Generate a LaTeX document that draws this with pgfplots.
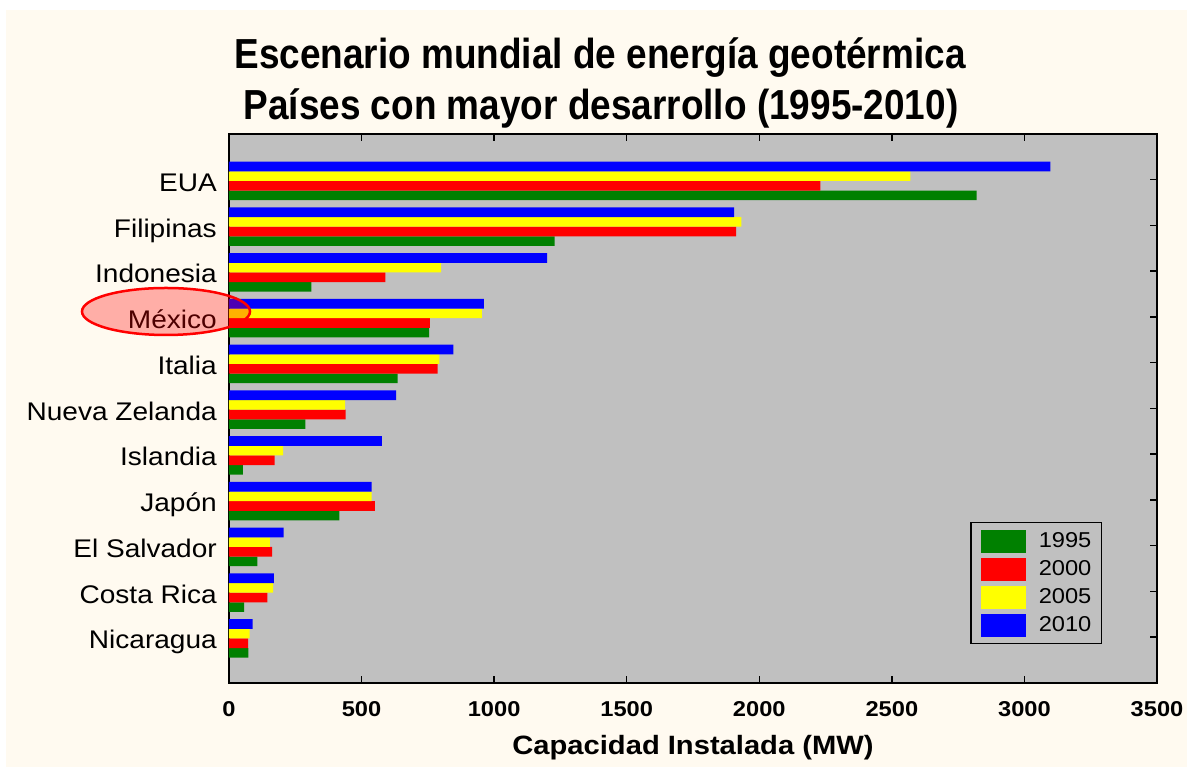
\documentclass[border=0pt]{standalone}
\usepackage{pgfplots}
\pgfplotsset{compat=1.18}
\usepackage{fontspec}
\setmainfont{Liberation Sans}[FakeStretch=1.1]
\newfontfamily\titlefam{Liberation Sans}[FakeStretch=0.88]
\definecolor{bgcream}{HTML}{FFFAF0}
\definecolor{plotgray}{HTML}{C0C0C0}
\definecolor{bgreen}{HTML}{008000}
\definecolor{bred}{HTML}{FF0000}
\definecolor{byellow}{HTML}{FFFF00}
\definecolor{bblue}{HTML}{0000FF}
\pgfplotsset{mylegend/.style={legend image code/.code={\fill (0pt,-11.5pt) rectangle (45pt,11.5pt); \path (58pt,0pt);}}}
\begin{document}
\begin{tikzpicture}
\useasboundingbox (0,0) rectangle (1187pt,767pt);
\fill[white] (0,0) rectangle (1187pt,767pt);
\fill[bgcream] (6pt,0) rectangle (1187pt,757pt);
\begin{axis}[
  at={(229pt,84pt)}, anchor=south west,
  width=928pt, height=549pt, scale only axis,
  xmin=0, xmax=3500, ymin=-1, ymax=11,
  xbar, bar width=9.6pt,
  axis background/.style={fill=plotgray},
  axis line style={line width=2pt, black},
  tick align=inside, major tick length=7pt,
  major tick style={line width=1.5pt, black},
  tick pos=both,
  xtick={0,500,...,3500},
  ytick={0,...,10},
  yticklabels={Nicaragua, Costa Rica, El Salvador, Japón, Islandia, Nueva Zelanda, Italia, México, Indonesia, Filipinas, EUA},
  scaled x ticks=false,
  /pgf/number format/assume math mode=true,
  /pgf/number format/1000 sep={},
  xticklabel style={font=\bfseries\fontsize{21.5}{26}\selectfont, anchor=base, inner sep=0pt, yshift=-33.7pt},
  yticklabel style={font=\fontsize{25.5}{30}\selectfont, anchor=base east, inner sep=0pt, xshift=-12pt, yshift=-11.7pt},
  xlabel={Capacidad Instalada (MW)},
  xlabel style={font=\bfseries\fontsize{26.5}{32}\selectfont, at={(axis description cs:0.5,0)}, anchor=base, inner sep=0pt, yshift=-72pt},
  legend style={at={(0.7985,0.2933)}, anchor=north west, draw=black, line width=1.5pt, fill=plotgray,
    font=\fontsize{21.5}{26}\selectfont, inner xsep=10pt, inner ysep=7pt, row sep=5pt,
    nodes={inner sep=0pt}, cells={anchor=west}},
]
\addplot[draw=none, fill=bgreen, bar shift=-15.6pt, mylegend] coordinates {
 (2820,10) (1228,9) (311,8) (755,7) (636,6) (288,5) (52,4) (416,3) (107,2) (57,1) (73,0)};
\addlegendentry{1995}
\addplot[draw=none, fill=bred, bar shift=-6pt, mylegend] coordinates {
 (2230,10) (1913,9) (590,8) (758,7) (787,6) (440,5) (172,4) (550,3) (163,2) (145,1) (72,0)};
\addlegendentry{2000}
\addplot[draw=none, fill=byellow, bar shift=3.6pt, mylegend] coordinates {
 (2570,10) (1932,9) (800,8) (954,7) (793,6) (438,5) (204,4) (538,3) (154,2) (166,1) (78,0)};
\addlegendentry{2005}
\addplot[draw=none, fill=bblue, bar shift=13.2pt, mylegend] coordinates {
 (3098,10) (1905,9) (1200,8) (961,7) (846,6) (630,5) (577,4) (538,3) (206,2) (169,1) (89,0)};
\addlegendentry{2010}
\end{axis}
\draw[bred, line width=2.5pt, fill=bred, fill opacity=0.3] (166pt,455.5pt) ellipse [x radius=84pt, y radius=23.5pt];
\node[anchor=base, inner sep=0pt, font=\titlefam\bfseries\fontsize{42}{48}\selectfont] at (600pt,698pt) {Escenario mundial de energía geotérmica};
\node[anchor=base, inner sep=0pt, font=\titlefam\bfseries\fontsize{42}{48}\selectfont] at (601pt,647pt) {Países con mayor desarrollo (1995-2010)};
\end{tikzpicture}
\end{document}
